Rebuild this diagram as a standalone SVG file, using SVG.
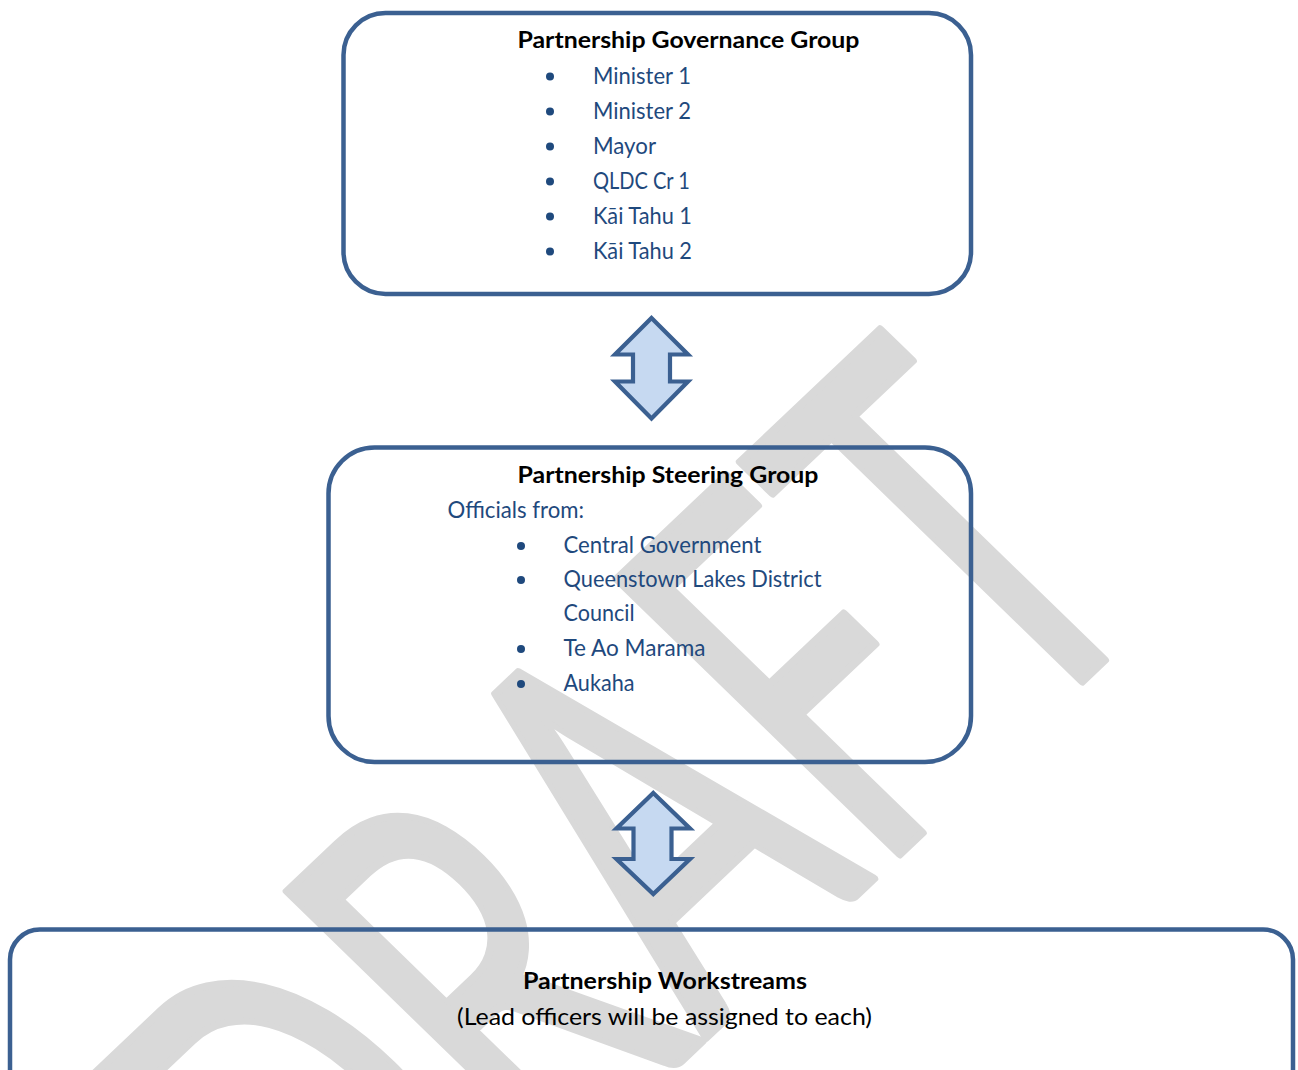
<svg xmlns="http://www.w3.org/2000/svg" width="1298" height="1070" viewBox="0 0 1298 1070">
<style>
.box{fill:none;stroke:#3b6091;stroke-width:4.5}
.arr{fill:#c6d9f1;stroke:#3b6091;stroke-width:4.2;stroke-linejoin:miter}
.title{font-family:Lato,'Open Sans',sans-serif;font-weight:bold;font-size:23px;fill:#000}
.item{font-family:Lato,'Open Sans',sans-serif;font-size:23px;fill:#1f497d}
.blt{fill:#1f497d}
.wm{font-family:Lato,'Open Sans',sans-serif;font-size:100px;fill:#d9d9d9;stroke:#d9d9d9;stroke-width:1.5;stroke-linejoin:round}
</style>
<rect width="1298" height="1070" fill="#fff"/>
<g id="watermark">
<text class="wm" transform="matrix(2.714,-2.571,3.95,3.838,353.7,1371.4)" textLength="300" lengthAdjust="spacingAndGlyphs">DRAFT</text>
</g>
<g id="connectors">
<path class="arr" d="M651.5,318 L688,354.5 L670,354.5 L670,381.5 L688,381.5 L651.5,418.5 L615,381.5 L633,381.5 L633,354.5 L615,354.5 Z"/>
<path class="arr" d="M653.3,793 L690,828.5 L671.5,828.5 L671.5,859 L690,859 L653.3,894 L616.5,859 L633.5,859 L633.5,828.5 L616.5,828.5 Z"/>
</g>
<g id="governance">
<rect class="box" x="343.5" y="13" width="627.5" height="281" rx="42"/>
<text class="title" x="517.5" y="48" textLength="342" lengthAdjust="spacingAndGlyphs">Partnership Governance Group</text>
<circle class="blt" cx="550" cy="76.5" r="4"/>
<circle class="blt" cx="550" cy="111.5" r="4"/>
<circle class="blt" cx="550" cy="146.5" r="4"/>
<circle class="blt" cx="550" cy="181.5" r="4"/>
<circle class="blt" cx="550" cy="216.5" r="4"/>
<circle class="blt" cx="550" cy="251.5" r="4"/>
<text class="item" x="593" y="84" textLength="98" lengthAdjust="spacingAndGlyphs">Minister 1</text>
<text class="item" x="593" y="119" textLength="98" lengthAdjust="spacingAndGlyphs">Minister 2</text>
<text class="item" x="593" y="154" textLength="63" lengthAdjust="spacingAndGlyphs">Mayor</text>
<text class="item" x="593" y="189" textLength="97" lengthAdjust="spacingAndGlyphs">QLDC Cr 1</text>
<text class="item" x="593" y="224" textLength="99" lengthAdjust="spacingAndGlyphs">Kāi Tahu 1</text>
<text class="item" x="593" y="259" textLength="99" lengthAdjust="spacingAndGlyphs">Kāi Tahu 2</text>
</g>
<g id="steering">
<rect class="box" x="328.5" y="447.5" width="642.5" height="314.5" rx="46"/>
<text class="title" x="517.5" y="483" textLength="301" lengthAdjust="spacingAndGlyphs">Partnership Steering Group</text>
<text class="item" x="447.5" y="518" textLength="136.5" lengthAdjust="spacingAndGlyphs">Officials from:</text>
<circle class="blt" cx="521" cy="546" r="4"/>
<circle class="blt" cx="521" cy="580" r="4"/>
<circle class="blt" cx="521" cy="649" r="4"/>
<circle class="blt" cx="521" cy="684" r="4"/>
<text class="item" x="563.5" y="553" textLength="198" lengthAdjust="spacingAndGlyphs">Central Government</text>
<text class="item" x="563.5" y="587" textLength="258" lengthAdjust="spacingAndGlyphs">Queenstown Lakes District</text>
<text class="item" x="563.5" y="621" textLength="71" lengthAdjust="spacingAndGlyphs">Council</text>
<text class="item" x="563.5" y="656" textLength="142" lengthAdjust="spacingAndGlyphs">Te Ao Marama</text>
<text class="item" x="563.5" y="691" textLength="71" lengthAdjust="spacingAndGlyphs">Aukaha</text>
</g>
<g id="workstreams">
<rect class="box" x="10" y="929.5" width="1283" height="200" rx="30"/>
<text class="title" x="665" y="989" text-anchor="middle" textLength="284" lengthAdjust="spacingAndGlyphs">Partnership Workstreams</text>
<text class="item" x="664.5" y="1025" text-anchor="middle" textLength="415" lengthAdjust="spacingAndGlyphs" style="fill:#000">(Lead officers will be assigned to each)</text>
</g>
</svg>
